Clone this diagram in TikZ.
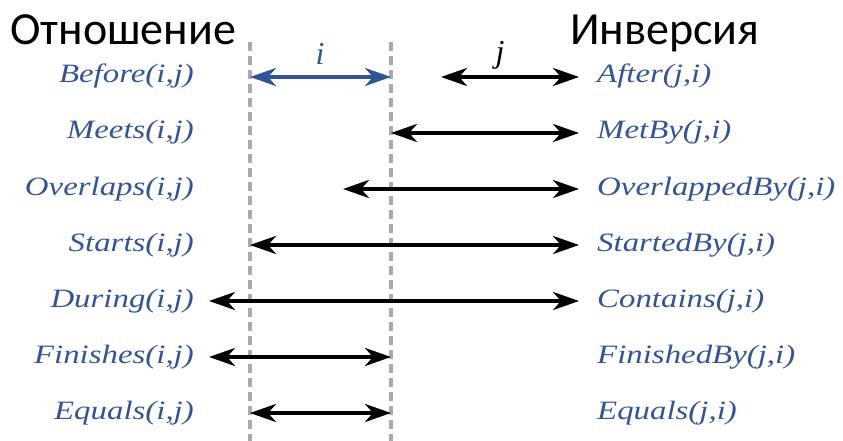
\documentclass[tikz,border=0pt]{standalone}
\usepackage{graphicx}
\usepackage{fontspec}
\setmainfont{Liberation Serif}
\newfontfamily\headfont{Carlito}
\usetikzlibrary{arrows.meta}
\definecolor{reltext}{RGB}{52,84,150}
\definecolor{relblue}{RGB}{47,85,151}
\definecolor{guide}{RGB}{170,170,170}
% relation names are set in a horizontally widened italic
\newcommand{\widetext}[1]{\scalebox{1.24}[1]{#1}}
\tikzset{
  rel/.style={font=\fontsize{26.5}{30}\selectfont\itshape, text=reltext, inner sep=0pt},
  head/.style={font=\headfont\fontsize{46}{50}\selectfont, inner sep=0pt},
  interval/.style={line width=4pt, {Stealth[length=26pt,width=18pt,inset=8pt]}-{Stealth[length=26pt,width=18pt,inset=8pt]}},
  guideline/.style={guide, line width=3.5pt, dash pattern=on 9pt off 5pt},
  varlabel/.style={font=\fontsize{32}{34}\selectfont\itshape, inner sep=0pt}
}
\begin{document}
\begin{tikzpicture}[x=1pt,y=-1pt]
\useasboundingbox (0,0) rectangle (843,441);

% column headings
\node[head, anchor=base west] (hl) at (10,45) {Отношение};
\node[head, anchor=base west] (hr) at (570,45) {Инверсия};

% interval boundaries of i
\coordinate (gl0) at (250,42); \coordinate (gl1) at (250,441);
\coordinate (gr0) at (391,42); \coordinate (gr1) at (391,441);
\draw[guideline] (gl0) -- (gl1);
\draw[guideline] (gr0) -- (gr1);

% relation names (left) and their inverses (right)
\foreach \y/\l/\r [count=\k] in {
  77/{Before(i,j)}/{After(j,i)},
  133/{Meets(i,j)}/{MetBy(j,i)},
  189/{Overlaps(i,j)}/{OverlappedBy(j,i)},
  245/{Starts(i,j)}/{StartedBy(j,i)},
  301/{During(i,j)}/{Contains(j,i)},
  357/{Finishes(i,j)}/{FinishedBy(j,i)},
  413/{Equals(i,j)}/{Equals(j,i)}}{
  \node[rel, anchor=base east] (L\k) at (194,\y+6) {\widetext{\l}};
  \node[rel, anchor=base west] (R\k) at (597,\y+6) {\widetext{\r}};
}

% interval i and interval j
\coordinate (i0) at (250,77); \coordinate (i1) at (391,77);
\draw[interval, relblue] (i0) -- (i1);
\node[varlabel, text=relblue, anchor=base] (ti) at (320,65) {i};
\coordinate (j0) at (441,77); \coordinate (j1) at (579,77);
\draw[interval] (j0) -- (j1);
\node[varlabel, anchor=base] (tj) at (500,63) {j};

% position of j for each relation
\coordinate (a2) at (391,133); \coordinate (b2) at (579,133);
\coordinate (a3) at (343,189); \coordinate (b3) at (579,189);
\coordinate (a4) at (250,245); \coordinate (b4) at (579,245);
\coordinate (a5) at (209,301); \coordinate (b5) at (579,301);
\coordinate (a6) at (209,357); \coordinate (b6) at (391,357);
\coordinate (a7) at (250,413); \coordinate (b7) at (391,413);
\foreach \k in {2,...,7}{\draw[interval] (a\k) -- (b\k);}
\end{tikzpicture}
\end{document}
